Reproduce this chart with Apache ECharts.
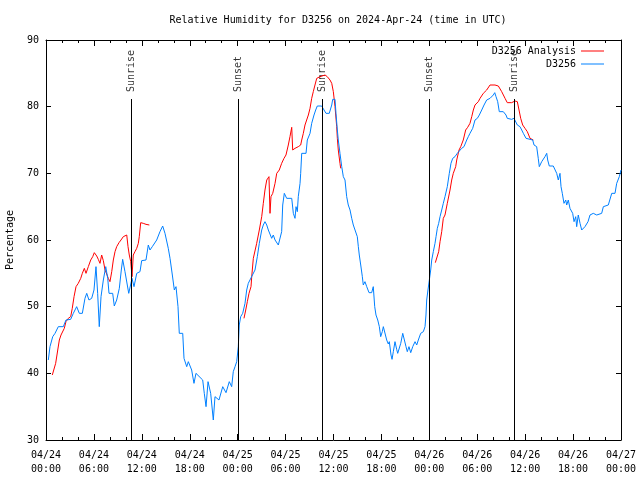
<!DOCTYPE html>
<html>
<head>
<meta charset="utf-8">
<script src="https://cdn.jsdelivr.net/npm/echarts@6/dist/echarts.min.js"></script>
<style>html,body{margin:0;padding:0;background:#fff;}#c{width:640px;height:480px;}</style>
</head>
<body>
<div id="c"></div>
<script>
// Hours since 2024-04-24 00:00 UTC
const tickLabels = ['04/24\n00:00','04/24\n06:00','04/24\n12:00','04/24\n18:00','04/25\n00:00','04/25\n06:00','04/25\n12:00','04/25\n18:00','04/26\n00:00','04/26\n06:00','04/26\n12:00','04/26\n18:00','04/27\n00:00'];

const obsHours = [0.29,0.5,0.84,1.13,1.54,2.17,2.5,3.09,3.42,3.84,4.17,4.55,4.88,5.1,5.38,5.72,6.01,6.26,6.47,6.67,6.89,7.18,7.48,7.73,7.89,8.35,8.55,8.85,9.18,9.43,9.6,9.89,10.11,10.36,10.61,10.77,11.02,11.36,11.77,11.98,12.52,12.81,13.02,13.31,13.86,14.27,14.61,14.9,15.11,15.31,15.53,15.82,16.07,16.28,16.53,16.69,17.12,17.28,17.62,17.82,18.24,18.53,18.78,19.62,19.82,20.04,20.29,20.62,20.95,21.16,21.37,21.66,22.13,22.54,22.95,23.25,23.45,23.67,23.88,24.08,24.2,24.38,24.63,24.92,25.13,25.33,25.54,25.76,26.17,26.46,26.71,27.01,27.21,27.42,27.64,27.84,28.05,28.26,28.46,28.68,28.89,29.09,29.3,29.51,29.64,29.84,30.14,30.77,30.97,31.18,31.31,31.47,31.59,31.81,31.89,32.02,32.56,32.72,33.06,33.27,33.56,33.77,33.97,34.52,34.72,35.06,35.47,35.78,35.9,36.19,36.31,36.48,36.6,36.81,37.03,37.23,37.44,37.65,37.85,38.07,38.28,38.48,38.69,38.98,39.11,39.23,39.41,39.61,39.73,39.94,40.16,40.45,40.78,40.98,41.16,41.32,41.54,41.74,41.91,42.11,42.24,42.45,42.66,42.86,42.99,43.2,43.33,43.49,43.7,43.91,44.04,44.24,44.42,44.67,44.83,45.08,45.24,45.45,45.67,45.92,46.21,46.42,46.62,46.92,47.25,47.46,47.58,47.67,47.83,48.0,48.17,48.3,48.5,48.71,48.84,49.0,49.17,49.34,49.55,49.75,49.96,50.25,50.5,50.71,50.93,51.21,51.5,51.75,52.05,52.34,52.68,52.88,53.09,53.43,53.72,54.01,54.26,54.56,54.85,55.18,55.6,55.81,56.01,56.19,56.35,56.56,56.76,57.26,57.6,57.76,58.31,58.6,58.85,59.02,59.35,59.57,59.77,60.11,60.61,60.94,61.11,61.44,61.64,61.77,62.07,62.27,62.48,62.7,62.82,63.02,63.52,63.74,63.95,64.15,64.36,64.49,64.65,64.86,65.08,65.2,65.4,65.61,65.95,66.12,66.33,66.45,66.65,66.87,67.08,67.49,67.87,68.12,68.53,68.96,69.58,69.79,70.41,70.84,71.25,71.46,71.79,72.0];
const obsValues = [42.0,44.0,45.5,46.0,47.0,47.0,48.0,48.1,49.0,50.0,49.0,49.0,51.25,52.0,51.0,51.25,52.5,56.0,52.0,47.0,51.5,54.0,56.0,54.25,52.0,52.0,50.1,51.0,52.75,55.5,57.1,55.25,55.25,52.0,52.0,54.25,53.0,55.0,55.25,56.9,57.0,59.25,58.5,59.0,60.0,61.25,62.1,61.0,60.75,58.75,57.25,54.75,52.5,53.0,50.0,46.0,46.0,42.25,41.0,41.75,40.5,38.5,40.0,39.0,37.0,35.0,38.75,37.0,33.0,36.5,36.75,36.0,38.0,37.1,38.75,38.0,40.25,41.0,41.75,44.0,47.25,48.5,49.0,50.5,52.5,53.5,54.0,54.0,55.5,57.5,59.5,61.5,62.25,62.75,62.25,61.5,61.75,60.25,60.75,60.0,60.25,59.25,59.25,61.25,65.25,67.0,66.25,66.25,64.0,63.25,65.0,64.25,66.5,68.5,70.0,73.0,73.0,75.0,76.0,77.5,78.75,79.5,80.1,80.1,80.0,79.0,79.0,80.25,81.1,81.1,79.0,76.5,75.0,73.0,71.0,69.5,69.0,66.5,65.25,64.5,63.25,62.25,62.1,60.5,59.0,57.75,56.25,54.5,53.25,53.75,53.0,52.1,52.1,53.0,50.0,48.75,48.0,47.0,45.5,46.25,47.0,47.0,45.0,44.4,44.75,42.75,42.1,43.25,44.75,43.6,43.0,43.0,44.5,46.0,45.75,44.0,43.25,44.0,43.1,44.0,44.75,44.25,45.0,46.0,46.25,47.0,48.75,51.0,52.5,54.0,55.5,57.0,58.25,59.5,60.5,61.75,62.5,63.5,64.5,65.5,66.5,68.0,70.0,71.5,72.25,72.5,73.0,73.25,73.75,74.0,75.0,75.5,76.0,76.75,78.0,78.25,78.75,79.5,80.25,81.0,81.25,81.25,81.75,82.1,81.5,80.75,79.25,79.25,78.75,78.25,78.1,78.25,78.25,77.25,77.0,76.5,76.0,75.25,75.1,75.0,74.25,74.0,72.25,71.0,71.75,72.0,72.5,73.0,72.0,71.1,71.1,71.1,70.0,69.0,70.0,68.0,67.0,65.5,66.0,65.25,66.0,64.75,64.0,62.75,63.5,62.0,63.75,62.5,61.5,62.0,62.75,63.75,64.0,63.75,64.0,65.0,65.25,67.0,67.0,68.5,69.5,70.5];

const anaHours = [0.79,1.04,1.21,1.47,1.67,1.88,2.09,2.29,2.5,2.79,3.09,3.29,3.51,3.76,4.04,4.35,4.55,4.8,5.01,5.3,5.6,5.85,6.05,6.35,6.55,6.76,6.97,7.18,7.39,7.6,7.8,8.01,8.23,8.43,8.64,8.85,9.14,9.39,9.68,9.89,10.11,10.27,10.43,10.61,10.77,10.93,11.14,11.36,11.56,11.68,11.86,12.18,12.52,12.94,
  18.0,
  24.79,25.01,25.21,25.42,25.67,25.76,25.96,26.38,26.71,27.01,27.21,27.42,27.64,27.92,28.05,28.17,28.39,28.68,28.89,29.21,29.51,29.8,30.05,30.34,30.55,30.77,30.89,31.18,31.59,31.89,32.02,32.22,32.43,32.64,32.85,33.06,33.27,33.47,33.68,33.9,34.31,34.94,35.22,35.56,35.78,35.98,36.19,36.4,36.48,36.6,36.81,36.9,
  42.0,
  48.75,49.0,49.17,49.34,49.55,49.75,49.96,50.25,50.59,50.8,51.0,51.3,51.43,51.72,51.93,52.25,52.55,52.8,53.09,53.31,53.51,53.72,54.13,54.35,54.76,55.18,55.6,55.81,56.22,56.64,57.06,57.48,57.76,58.31,58.73,59.02,59.23,59.44,59.69,59.98,60.27,60.61,61.02];
const anaValues = [39.75,39.75,41.5,43.5,45.0,45.75,46.0,46.75,47.75,48.25,48.5,49.75,51.5,53.0,53.5,54.25,55.0,55.75,55.0,56.0,57.0,57.5,58.1,57.6,57.1,56.5,57.75,56.9,55.5,54.9,54.25,53.75,55.25,57.0,58.25,59.0,59.6,60.0,60.5,60.75,60.75,59.0,57.75,56.75,54.5,57.75,58.25,58.75,59.5,60.5,62.6,62.5,62.35,62.25,
  null,
  48.25,49.5,50.75,52.0,53.0,54.5,57.25,59.5,61.5,63.5,65.5,67.5,69.0,69.5,64.0,66.5,67.0,68.5,70.0,70.5,71.5,72.25,72.75,74.25,75.5,76.9,73.5,73.75,74.0,74.25,75.0,76.0,77.25,78.0,78.75,79.75,81.25,82.25,83.25,84.25,84.5,84.75,84.5,84.0,83.5,82.25,80.0,77.0,75.25,73.5,71.5,70.75,
  null,
  56.6,56.6,58.25,59.75,61.25,63.25,63.75,65.5,67.5,69.0,70.0,71.0,72.0,73.5,74.0,75.0,76.5,76.9,77.5,78.5,79.5,80.25,80.75,81.25,82.0,82.5,83.25,83.5,83.25,83.1,82.25,81.25,80.6,80.6,80.85,80.75,79.5,78.25,77.25,76.75,76.25,75.25,75.0];

const sunHours = [10.68, 24.08, 34.6, 48.0, 58.68];
const sunLabels = ['Sunrise', 'Sunset', 'Sunrise', 'Sunset', 'Sunrise'];
const sunLineTop = 81.15;

const FONT = 'DejaVu Sans Mono';
function txt(extra) {
  return Object.assign({fontFamily: FONT, fontSize: 10, color: '#000', fontWeight: 'normal'}, extra || {});
}

const chart = echarts.init(document.getElementById('c'), null, {renderer: 'canvas'});

function xAxisCfg(pos, showLabel) {
  return {
    type: 'value', min: 0, max: 72, interval: 6, position: pos,
    axisLine: {show: true, onZero: false, lineStyle: {color: '#000', width: 1}},
    axisTick: {show: true, inside: true, length: 6, lineStyle: {color: '#000'}},
    minorTick: {show: true, splitNumber: 3, length: 3, lineStyle: {color: '#000'}},
    splitLine: {show: false}, minorSplitLine: {show: false},
    axisLabel: showLabel ? txt({show: true, margin: 8, lineHeight: 14,
      formatter: v => tickLabels[Math.round(v / 6)]}) : {show: false}
  };
}
function yAxisCfg(pos, showLabel) {
  const c = {
    type: 'value', min: 30, max: 90, interval: 10, position: pos,
    axisLine: {show: true, onZero: false, lineStyle: {color: '#000', width: 1}},
    axisTick: {show: true, inside: true, length: 5, lineStyle: {color: '#000'}},
    splitLine: {show: false},
    axisLabel: showLabel ? txt({show: true, margin: 7}) : {show: false}
  };
  if (showLabel) {
    c.name = 'Percentage';
    c.nameLocation = 'middle';
    c.nameRotate = 90;
    c.nameGap = 31;
    c.nameTextStyle = txt();
  }
  return c;
}

function legendCfg(name, top) {
  return {
    data: [name], orient: 'horizontal', right: 31, top: top, align: 'right',
    icon: 'rect', itemWidth: 23, itemHeight: 1, textStyle: txt(), selectedMode: false
  };
}

chart.setOption({
  animation: false,
  backgroundColor: '#fff',
  title: {
    text: 'Relative Humidity for D3256 on 2024-Apr-24 (time in UTC)',
    left: 333, top: 10, textAlign: 'center',
    textStyle: txt()
  },
  grid: {left: 46, right: 19, top: 40, bottom: 40, show: false, containLabel: false, outerBoundsMode: 'none'},
  legend: [legendCfg('D3256 Analysis', 41), legendCfg('D3256', 54)],
  xAxis: [xAxisCfg('bottom', true), xAxisCfg('top', false)],
  yAxis: [yAxisCfg('left', true), yAxisCfg('right', false)],
  series: [
    {
      name: 'D3256 Analysis', type: 'line', symbol: 'none', showSymbol: false, connectNulls: false,
      lineStyle: {color: '#ff0000', width: 1}, itemStyle: {color: '#ff0000'},
      data: anaHours.map((h, i) => [h, anaValues[i] === null ? '-' : anaValues[i]])
    },
    {
      name: 'D3256', type: 'line', symbol: 'none', showSymbol: false,
      lineStyle: {color: '#0080ff', width: 1}, itemStyle: {color: '#0080ff'},
      data: obsHours.map((h, i) => [h, obsValues[i]])
    },
    {
      name: 'sun', type: 'scatter', symbolSize: 0, silent: true,
      data: sunHours.map((h, i) => ({value: [h, sunLineTop], name: sunLabels[i]})),
      label: txt({show: true, position: 'top', distance: 7, rotate: 90,
        align: 'left', verticalAlign: 'middle', formatter: p => p.name}),
      markLine: {
        silent: true, symbol: ['none', 'none'], animation: false,
        label: {show: false},
        lineStyle: {color: '#000', width: 1, type: 'solid'},
        data: sunHours.map(h => [{coord: [h, 30]}, {coord: [h, sunLineTop]}])
      }
    }
  ]
});
</script>
</body>
</html>
